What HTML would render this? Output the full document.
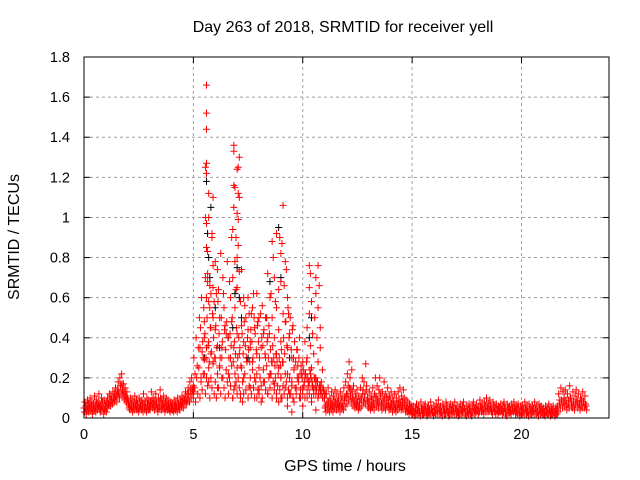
<!DOCTYPE html>
<html><head><meta charset="utf-8"><style>
body{margin:0;background:#fff}
svg{display:block;font-family:"Liberation Sans",sans-serif}
</style></head><body>
<svg id="chart" width="640" height="480">
<text x="343" y="32" font-size="16" text-anchor="middle">Day 263 of 2018, SRMTID for receiver yell</text>
<text x="345" y="471" font-size="16" text-anchor="middle">GPS time / hours</text>
<text transform="translate(19,237) rotate(-90)" font-size="16" text-anchor="middle">SRMTID / TECUs</text>
<g id="grid"></g><g id="marks"></g>
<rect x="84" y="57" width="525" height="361" fill="none" stroke="#000" stroke-width="1"/>
</svg>
<script>
const xTicks=[0,5,10,15,20];
const yTicks=[0,0.2,0.4,0.6,0.8,1,1.2,1.4,1.6,1.8];
const yTickLabels=["0","0.2","0.4","0.6","0.8","1","1.2","1.4","1.6","1.8"];
const base1Start=0, base1Step=0.04;
const base1=[0.05,0.08,0.06,0.04,0.09,0.07,0.05,0.1,0.06,0.08,0.04,0.07,0.11,0.06,0.09,0.05,0.08,0.12,0.07,0.06,0.1,0.08,0.05,0.09,0.07,0.06,
0.08,0.1,0.07,0.12,0.09,0.11,0.08,0.13,0.1,0.12,0.15,0.11,0.14,0.18,0.12,0.2,0.16,0.22,0.14,0.17,0.12,0.15,0.1,0.13,0.09,
0.08,0.06,0.1,0.07,0.09,0.05,0.08,0.11,0.06,0.09,0.07,0.05,0.1,0.08,0.06,0.09,0.07,0.12,0.06,0.08,0.05,0.1,0.07,0.09,0.06,
0.08,0.13,0.07,0.1,0.06,0.09,0.12,0.07,0.05,0.1,0.08,0.14,0.06,0.09,0.07,0.11,0.05,0.08,0.1,0.06,0.09,0.07,0.05,0.08,0.06,
0.07,0.05,0.09,0.06,0.08,0.05,0.1,0.07,0.06,0.09,0.08,0.11,0.07,0.1,0.09,0.13,0.08,0.12,0.15,0.1,0.18,0.12,0.2,0.14,0.16];
const base1Lo=[0.03,0.05,0.02,0.06,0.04,0.03,0.07,0.04,0.05,0.02,0.06,0.04,0.05,0.03,0.07,0.04,0.06,0.05,0.03,0.04,0.06,0.05,0.02,0.04,0.05,0.03,
0.05,0.07,0.06,0.08,0.06,0.09,0.07,0.1,0.08,0.09,0.11,0.08,0.12,0.13,0.1,0.16,0.12,0.17,0.11,0.13,0.09,0.11,0.08,0.1,0.07,
0.05,0.04,0.06,0.05,0.03,0.06,0.04,0.07,0.05,0.04,0.06,0.03,0.05,0.06,0.04,0.05,0.03,0.07,0.04,0.05,0.03,0.06,0.04,0.05,0.04,
0.06,0.09,0.05,0.07,0.04,0.06,0.08,0.05,0.03,0.06,0.05,0.1,0.04,0.06,0.05,0.07,0.03,0.05,0.06,0.04,0.05,0.04,0.03,0.05,0.04,
0.04,0.03,0.05,0.04,0.06,0.03,0.06,0.05,0.04,0.07,0.06,0.08,0.05,0.09,0.07,0.1,0.07,0.09,0.12,0.08,0.14,0.1,0.15,0.12,0.13];
const base2Start=5, base2Step=0.05;
const base2=[0.1,0.15,0.08,0.2,0.12,0.25,0.1,0.18,0.14,0.22,0.3,0.12,0.2,0.16,0.25,0.1,0.2,0.15,0.28,0.12,
0.18,0.1,0.22,0.15,0.25,0.12,0.3,0.2,0.15,0.1,0.24,0.18,0.12,0.2,0.16,0.26,0.1,0.14,0.22,0.18,
0.12,0.2,0.15,0.1,0.25,0.18,0.12,0.22,0.14,0.28,0.1,0.16,0.2,0.12,0.24,0.15,0.1,0.18,0.22,0.14,
0.12,0.2,0.16,0.1,0.24,0.18,0.14,0.26,0.12,0.2,0.15,0.22,0.1,0.18,0.14,0.2,0.12,0.16,0.08,0.14,
0.2,0.1,0.16,0.12,0.22,0.18,0.1,0.14,0.2,0.12,0.16,0.1,0.24,0.15,0.12,0.2,0.18,0.1,0.14,0.22,
0.12,0.16,0.1,0.2,0.14,0.18,0.12,0.22,0.1,0.16,0.14,0.2,0.12,0.18,0.1,0.15,0.12,0.18,0.1,0.14,0.12];
const base2Mid=[0.3,0.22,0.4,0.26,0.35,0.5,0.45,0.6,0.38,0.55,0.42,0.3,0.5,0.36,0.28,0.45,0.33,0.52,0.4,0.3,
0.46,0.35,0.58,0.42,0.3,0.5,0.38,0.62,0.44,0.34,0.48,0.4,0.3,0.42,0.36,0.5,0.28,0.38,0.32,0.45,
0.3,0.4,0.35,0.26,0.42,0.32,0.48,0.36,0.3,0.4,0.34,0.28,0.44,0.38,0.3,0.5,0.42,0.34,0.46,0.38,
0.3,0.52,0.4,0.36,0.44,0.32,0.5,0.38,0.3,0.42,0.34,0.28,0.36,0.3,0.26,0.32,0.28,0.22,0.3,0.26,
0.34,0.28,0.4,0.32,0.48,0.36,0.55,0.4,0.5,0.34,0.44,0.3,0.38,0.28,0.34,0.26,0.3,0.22,0.26,0.2,
0.24,0.18,0.22,0.28,0.2,0.16,0.24,0.2,0.18,0.15,0.2,0.16,0.14,0.18,0.12,0.16,0.14,0.12,0.15,0.1,0.12];
const peakT=[5.6,5.6,5.6,5.6,5.55,5.6,5.7,5.9,5.55,5.7,5.6,5.85,5.85,5.6,5.65,6.0,5.9,6.1,5.55,5.65,5.9,6.05,5.6,5.7,5.75,5.9,6.2,5.5,5.8,6.0,5.5,5.7,6.1,5.6,5.8,6.0,5.5,5.9,6.2,5.4,5.5,6.3,5.7,6.1,
6.85,6.85,7.1,7.05,7.0,6.85,6.9,7.05,7.1,6.85,7.0,7.05,6.8,6.95,7.05,7.0,6.9,7.2,7.1,6.8,7.0,7.3,6.7,7.15,6.9,7.4,6.75,7.2,7.0,7.5,6.6,7.3,6.85,7.6,7.1,6.7,7.45,7.0,6.6,7.3,6.9,7.15,6.8,7.25,
7.5,7.7,8.0,7.8,8.2,7.6,8.4,8.1,7.9,8.3,8.6,7.7,8.0,8.5,7.8,8.2,8.7,8.0,8.4,8.8,8.1,7.6,7.9,
8.6,8.8,9.1,9.05,9.0,8.65,9.2,9.25,8.4,8.7,9.0,8.9,9.3,8.5,8.8,9.1,8.6,9.2,8.9,9.4,8.7,9.0,9.3,8.8,9.5,9.1,8.9,9.6,9.3,9.0,9.5,9.2,9.7,9.4,9.0,9.6,9.3,9.5,
10.3,10.7,10.35,10.6,10.75,10.3,10.6,10.4,10.7,10.3,10.55,10.8,10.2,10.45,10.65,10.1,10.35,10.8,10.5,10.2,10.7,10.0,10.4,10.9,10.1,10.6,10.3,9.8,10.8,10.0,10.5,10.2,9.9,10.7,10.4,10.0,10.6,
5.3,5.45,5.8,6.4,6.5,6.3,7.9,8.3,6.45,5.35,
5.65,5.75,5.95,6.15,6.35,6.55,6.65,6.95,7.35,7.55,7.75,7.95,8.15,8.35,8.55,8.75,8.95,9.15,9.35,9.55,9.75,6.25,6.75,7.65,8.45,9.85];
const peakV=[1.66,1.52,1.44,1.27,1.25,1.22,1.12,1.1,1.0,1.0,0.97,0.92,0.9,0.85,0.83,0.78,0.76,0.74,0.7,0.68,0.65,0.62,0.6,0.58,0.55,0.5,0.5,0.48,0.45,0.44,0.4,0.38,0.36,0.35,0.32,0.3,0.29,0.27,0.26,0.33,0.22,0.2,0.18,0.15,
1.36,1.33,1.3,1.25,1.24,1.16,1.15,1.12,1.1,1.05,1.02,0.99,0.94,0.9,0.86,0.8,0.78,0.74,0.73,0.7,0.65,0.6,0.6,0.58,0.55,0.5,0.48,0.46,0.42,0.44,0.4,0.38,0.35,0.35,0.32,0.3,0.28,0.25,0.22,0.2,0.16,0.12,0.1,0.08,
0.6,0.55,0.5,0.45,0.42,0.38,0.4,0.35,0.32,0.3,0.28,0.28,0.25,0.22,0.2,0.18,0.17,0.14,0.12,0.1,0.08,0.15,0.1,
0.88,0.92,1.06,0.87,0.82,0.8,0.78,0.74,0.72,0.7,0.68,0.64,0.6,0.6,0.55,0.52,0.5,0.48,0.44,0.42,0.4,0.38,0.35,0.32,0.3,0.28,0.25,0.25,0.22,0.2,0.18,0.15,0.15,0.12,0.1,0.08,0.06,0.03,
0.76,0.76,0.72,0.7,0.66,0.65,0.62,0.58,0.55,0.52,0.5,0.45,0.45,0.42,0.4,0.38,0.36,0.35,0.32,0.3,0.28,0.28,0.25,0.24,0.22,0.2,0.18,0.2,0.16,0.15,0.12,0.1,0.1,0.1,0.08,0.06,0.04,
0.35,0.3,0.62,0.55,0.42,0.35,0.62,0.5,0.46,0.2,
0.72,0.66,0.58,0.64,0.7,0.78,0.68,0.64,0.56,0.52,0.62,0.48,0.56,0.5,0.62,0.58,0.9,0.66,0.52,0.46,0.34,0.82,0.9,0.52,0.46,0.4];
const blackT=[5.6,5.65,5.7,5.75,5.8,6.0,6.9,7.0,7.1,6.8,7.2,8.9,9.0,10.3,10.4,5.5,6.2,7.5,8.5,9.4];
const blackV=[1.18,0.92,0.8,0.7,1.05,0.55,0.62,0.75,0.6,0.45,0.5,0.95,0.7,0.4,0.5,0.3,0.35,0.3,0.68,0.3];
const base3Start=11, base3Step=0.04;
const base3=[0.1,0.06,0.12,0.08,0.15,0.05,0.1,0.08,0.13,0.06,0.11,0.09,0.14,0.07,0.12,0.08,0.1,0.06,0.13,0.09,0.11,0.07,0.15,0.1,0.18,
0.12,0.22,0.16,0.28,0.2,0.14,0.24,0.1,0.16,0.08,0.12,0.1,0.14,0.06,0.11,0.08,0.15,0.1,0.2,0.14,0.18,0.12,0.27,0.16,0.1,
0.08,0.13,0.06,0.11,0.09,0.15,0.07,0.12,0.2,0.1,0.16,0.08,0.14,0.2,0.11,0.07,0.13,0.09,0.18,0.06,0.12,0.1,0.15,0.07,0.11,
0.09,0.13,0.06,0.1,0.08,0.12,0.05,0.1,0.07,0.13,0.09,0.15,0.06,0.11,0.08,0.14,0.1,0.06,0.09,0.05,0.08,0.04,0.07,0.05,0.06];
const base3Lo=[0.05,0.03,0.07,0.04,0.08,0.03,0.06,0.04,0.07,0.03,0.06,0.05,0.08,0.04,0.07,0.05,0.06,0.03,0.07,0.05,0.06,0.04,0.09,0.06,0.1,
0.07,0.12,0.09,0.15,0.11,0.08,0.13,0.06,0.09,0.05,0.07,0.06,0.08,0.04,0.06,0.05,0.09,0.06,0.12,0.08,0.1,0.07,0.14,0.09,0.06,
0.05,0.08,0.04,0.06,0.05,0.09,0.04,0.07,0.11,0.06,0.09,0.05,0.08,0.12,0.06,0.04,0.08,0.05,0.1,0.04,0.07,0.06,0.09,0.04,0.06,
0.05,0.07,0.03,0.06,0.04,0.07,0.03,0.06,0.04,0.07,0.05,0.08,0.04,0.06,0.05,0.08,0.06,0.03,0.05,0.03,0.04,0.02,0.04,0.03,0.03];
const base4Start=15, base4Step=0.05;
const base4=[0.04,0.06,0.03,0.05,0.07,0.04,0.06,0.03,0.08,0.05,0.04,0.06,0.07,0.03,0.05,0.06,0.04,0.08,0.05,0.03,
0.06,0.04,0.07,0.05,0.09,0.04,0.06,0.03,0.07,0.05,0.04,0.08,0.06,0.03,0.05,0.07,0.04,0.06,0.05,0.08,
0.04,0.06,0.03,0.05,0.07,0.04,0.06,0.08,0.05,0.03,0.06,0.04,0.07,0.05,0.03,0.06,0.08,0.04,0.05,0.07,
0.04,0.06,0.09,0.05,0.07,0.04,0.08,0.06,0.1,0.05,0.07,0.09,0.06,0.04,0.08,0.06,0.05,0.07,0.04,0.06,
0.05,0.07,0.04,0.06,0.08,0.05,0.03,0.07,0.05,0.06,0.04,0.07,0.05,0.08,0.04,0.06,0.05,0.07,0.03,0.06,
0.04,0.06,0.05,0.08,0.04,0.06,0.03,0.07,0.05,0.04,0.06,0.05,0.08,0.04,0.06,0.03,0.07,0.05,0.06,0.04,
0.05,0.03,0.06,0.04,0.05,0.07,0.03,0.05,0.04,0.06,0.03,0.05,0.04,0.06,0.12,0.09,0.15,0.08,0.13,0.1,
0.14,0.07,0.12,0.09,0.16,0.1,0.08,0.13,0.06,0.11,0.14,0.08,0.12,0.07,0.1,0.09,0.13,0.08,0.11,0.06];
const base4Lo=[0.02,0.03,0.01,0.02,0.04,0.02,0.03,0.01,0.04,0.02,0.02,0.03,0.04,0.01,0.02,0.03,0.02,0.04,0.03,0.01,
0.03,0.02,0.04,0.02,0.05,0.02,0.03,0.01,0.04,0.02,0.02,0.04,0.03,0.01,0.02,0.04,0.02,0.03,0.02,0.05,
0.02,0.03,0.01,0.02,0.04,0.02,0.03,0.05,0.02,0.01,0.03,0.02,0.04,0.02,0.01,0.03,0.05,0.02,0.03,0.04,
0.02,0.03,0.06,0.03,0.04,0.02,0.05,0.03,0.06,0.03,0.04,0.05,0.03,0.02,0.05,0.03,0.02,0.04,0.02,0.03,
0.03,0.04,0.02,0.03,0.05,0.02,0.01,0.04,0.03,0.03,0.02,0.04,0.03,0.05,0.02,0.03,0.02,0.04,0.01,0.03,
0.02,0.03,0.02,0.05,0.02,0.03,0.01,0.04,0.02,0.02,0.03,0.02,0.05,0.02,0.03,0.01,0.04,0.02,0.03,0.02,
0.02,0.01,0.03,0.02,0.02,0.04,0.01,0.02,0.02,0.03,0.01,0.02,0.02,0.03,0.07,0.05,0.09,0.05,0.08,0.06,
0.09,0.04,0.07,0.05,0.1,0.06,0.05,0.08,0.04,0.07,0.09,0.05,0.07,0.04,0.06,0.05,0.08,0.05,0.07,0.04];

const X0=84,X1=609,Y0=418,Y1=57,XMAX=24,YMAX=1.8;
const xs=t=>X0+(X1-X0)*t/XMAX;
const ys=v=>Y0-(Y0-Y1)*v/YMAX;
const NS="http://www.w3.org/2000/svg";
const grid=document.getElementById('grid'), marks=document.getElementById('marks');
function mk(tag,at,parent){const e=document.createElementNS(NS,tag);for(const k in at)e.setAttribute(k,at[k]);parent.appendChild(e);return e;}
xTicks.forEach(t=>{
  const x=xs(t);
  if(t>0){const g=mk('line',{x1:x,y1:Y0,x2:x,y2:Y1,stroke:'#a0a0a0','stroke-dasharray':'3,3'},grid);
  
  }
  mk('line',{x1:x,y1:Y0,x2:x,y2:Y0-6,stroke:'#000'},grid);
  mk('line',{x1:x,y1:Y1,x2:x,y2:Y1+6,stroke:'#000'},grid);
  const l=mk('text',{x:x,y:Y0+21,'font-size':14.5,'text-anchor':'middle',fill:'#000'},grid);l.textContent=t;
  
  
});
yTicks.forEach((v,i)=>{
  const y=ys(v);
  if(v>0&&v<YMAX){const g=mk('line',{x1:X0,y1:y,x2:X1,y2:y,stroke:'#a0a0a0','stroke-dasharray':'3,3'},grid);
  
  }
  mk('line',{x1:X0,y1:y,x2:X0+6,y2:y,stroke:'#000'},grid);
  mk('line',{x1:X1,y1:y,x2:X1-6,y2:y,stroke:'#000'},grid);
  const l=mk('text',{x:X0-14,y:y+5,'font-size':14.5,'text-anchor':'end',fill:'#000'},grid);l.textContent=yTickLabels[i];
  
  
});
function plus(t,v,col){
  const x=xs(t),y=ys(v),s=3.5;
  const p=mk('path',{d:`M${x-s} ${y}H${x+s}M${x} ${y-s}V${y+s}`,stroke:col,'stroke-width':1,fill:'none'},marks);
  
  
}
function series(start,step,vals,col){vals.forEach((v,i)=>plus(start+i*step,v,col));}
series(base1Start,base1Step,base1,'#f00');
series(base1Start+0.02,base1Step,base1Lo,'#f00');
series(base2Start,base2Step,base2,'#f00');
series(base2Start+0.025,base2Step,base2Mid,'#f00');
series(base3Start,base3Step,base3,'#f00');
series(base3Start+0.02,base3Step,base3Lo,'#f00');
series(base4Start,base4Step,base4,'#f00');
series(base4Start+0.025,base4Step,base4Lo,'#f00');
blackT.forEach((t,i)=>plus(t,blackV[i],'#000'));
peakT.forEach((t,i)=>plus(t,peakV[i],'#f00'));
</script>
</body></html>
